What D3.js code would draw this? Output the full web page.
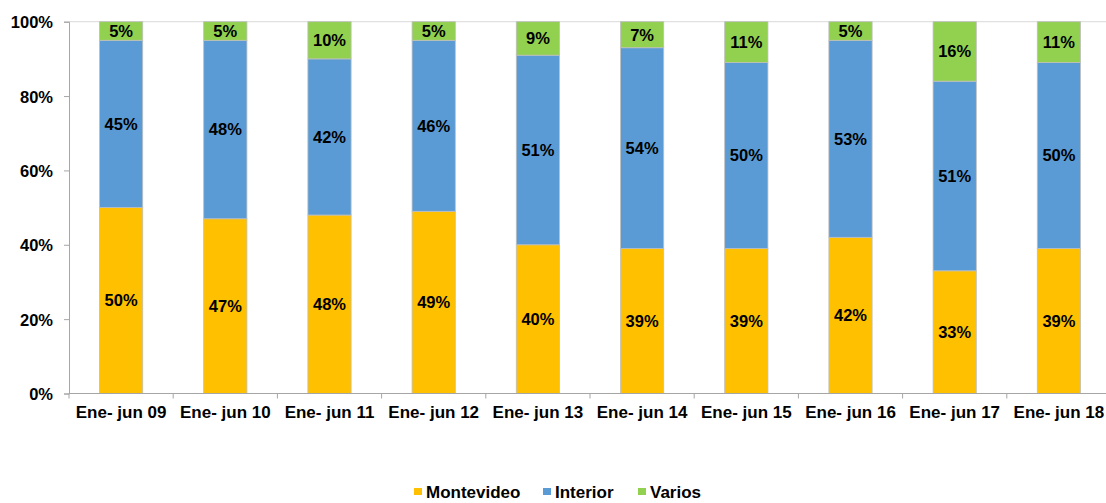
<!DOCTYPE html>
<html>
<head>
<meta charset="utf-8">
<script src="https://cdn.jsdelivr.net/npm/d3@7"></script>
<style>
  body { margin: 0; background: #fff; }
  svg text { font-family: "Liberation Sans", Arial, sans-serif; font-weight: bold; fill: #000; }
</style>
</head>
<body>
<div id="chart"></div>
<script>
// periods on the x axis
const periods = [
  "Ene- jun 09", "Ene- jun 10", "Ene- jun 11", "Ene- jun 12", "Ene- jun 13",
  "Ene- jun 14", "Ene- jun 15", "Ene- jun 16", "Ene- jun 17", "Ene- jun 18"
];

// shares in percent
const montevideo = [50, 47, 48, 49, 40, 39, 39, 42, 33, 39];
const interior   = [45, 48, 42, 46, 51, 54, 50, 53, 51, 50];
const varios     = [5, 5, 10, 5, 9, 7, 11, 5, 16, 11];

const seriesNames = ["Montevideo", "Interior", "Varios"];
const seriesColors = ["#FFC000", "#5B9BD5", "#92D050"];
const yTicks = [0, 20, 40, 60, 80, 100];

const W = 1106, H = 503;
const margin = { top: 21.7, left: 69, bottom: 503 - 393.5 };
const step = 104.2;

// build rows for the stack
const rows = periods.map(function(p, i) {
  return { period: p, Montevideo: montevideo[i], Interior: interior[i], Varios: varios[i] };
});

const svg = d3.select("#chart").append("svg")
  .attr("width", W)
  .attr("height", H);

const x = d3.scaleBand()
  .domain(periods)
  .range([margin.left, margin.left + step * periods.length])
  .paddingInner(0.585)
  .paddingOuter(0.2925);

const y = d3.scaleLinear()
  .domain([0, 100])
  .range([H - margin.bottom, margin.top]);

// top border line at 100%
svg.append("line")
  .attr("x1", margin.left).attr("x2", W)
  .attr("y1", y(100)).attr("y2", y(100))
  .attr("stroke", "#D9D9D9").attr("stroke-width", 1);

const stacked = d3.stack().keys(seriesNames)(rows);

const layer = svg.selectAll(".layer")
  .data(stacked)
  .enter().append("g")
  .attr("class", "layer")
  .attr("fill", function(d, i) { return seriesColors[i]; });

layer.selectAll("rect")
  .data(function(d) { return d; })
  .enter().append("rect")
  .attr("x", function(d) { return x(d.data.period); })
  .attr("width", x.bandwidth())
  .attr("y", function(d) { return y(d[1]); })
  .attr("height", function(d) { return y(d[0]) - y(d[1]); })
  .attr("stroke", "#BFBFBF")
  .attr("stroke-width", 0.8);

// value labels
layer.selectAll("text")
  .data(function(d) { return d; })
  .enter().append("text")
  .attr("x", function(d) { return x(d.data.period) + x.bandwidth() / 2; })
  .attr("y", function(d) { return (y(d[0]) + y(d[1])) / 2; })
  .attr("dy", "0.36em")
  .attr("text-anchor", "middle")
  .style("font-size", "16.5px")
  .text(function(d) { return (d[1] - d[0]) + "%"; });

// y axis
const yAxis = svg.append("g")
  .attr("transform", "translate(" + margin.left + ",0)")
  .call(d3.axisLeft(y).tickValues(yTicks).tickSize(5).tickPadding(11)
    .tickFormat(function(d) { return d + "%"; }));
yAxis.selectAll("text").style("font-size", "16.5px").attr("dy", "0.36em");

// x axis
const xAxis = svg.append("g")
  .attr("transform", "translate(0," + y(0) + ")")
  .call(d3.axisBottom(x).tickSize(0).tickPadding(12));
xAxis.selectAll("text").style("font-size", "17px");

// band separators on x axis
xAxis.selectAll(".sep")
  .data(d3.range(periods.length + 1))
  .enter().append("line")
  .attr("class", "sep")
  .attr("x1", function(i) { return margin.left + step * i; })
  .attr("x2", function(i) { return margin.left + step * i; })
  .attr("y1", 0).attr("y2", 5)
  .attr("stroke", "#A6A6A6");

[yAxis, xAxis].forEach(function(a) {
  a.select(".domain").attr("stroke", "#A6A6A6");
  a.selectAll(".tick line").attr("stroke", "#A6A6A6");
});
xAxis.select(".domain").attr("d", "M" + margin.left + ",0H" + W);

// legend
const legendX = [414, 543, 638];
const legend = svg.selectAll(".legend")
  .data(seriesNames)
  .enter().append("g")
  .attr("class", "legend")
  .attr("transform", function(d, i) { return "translate(" + legendX[i] + ",488)"; });

legend.append("rect")
  .attr("width", 8).attr("height", 7)
  .attr("fill", function(d, i) { return seriesColors[i]; });

legend.append("text")
  .attr("x", 12)
  .attr("y", 10)
  .style("font-size", "17px")
  .text(function(d) { return d; });
</script>
</body>
</html>
